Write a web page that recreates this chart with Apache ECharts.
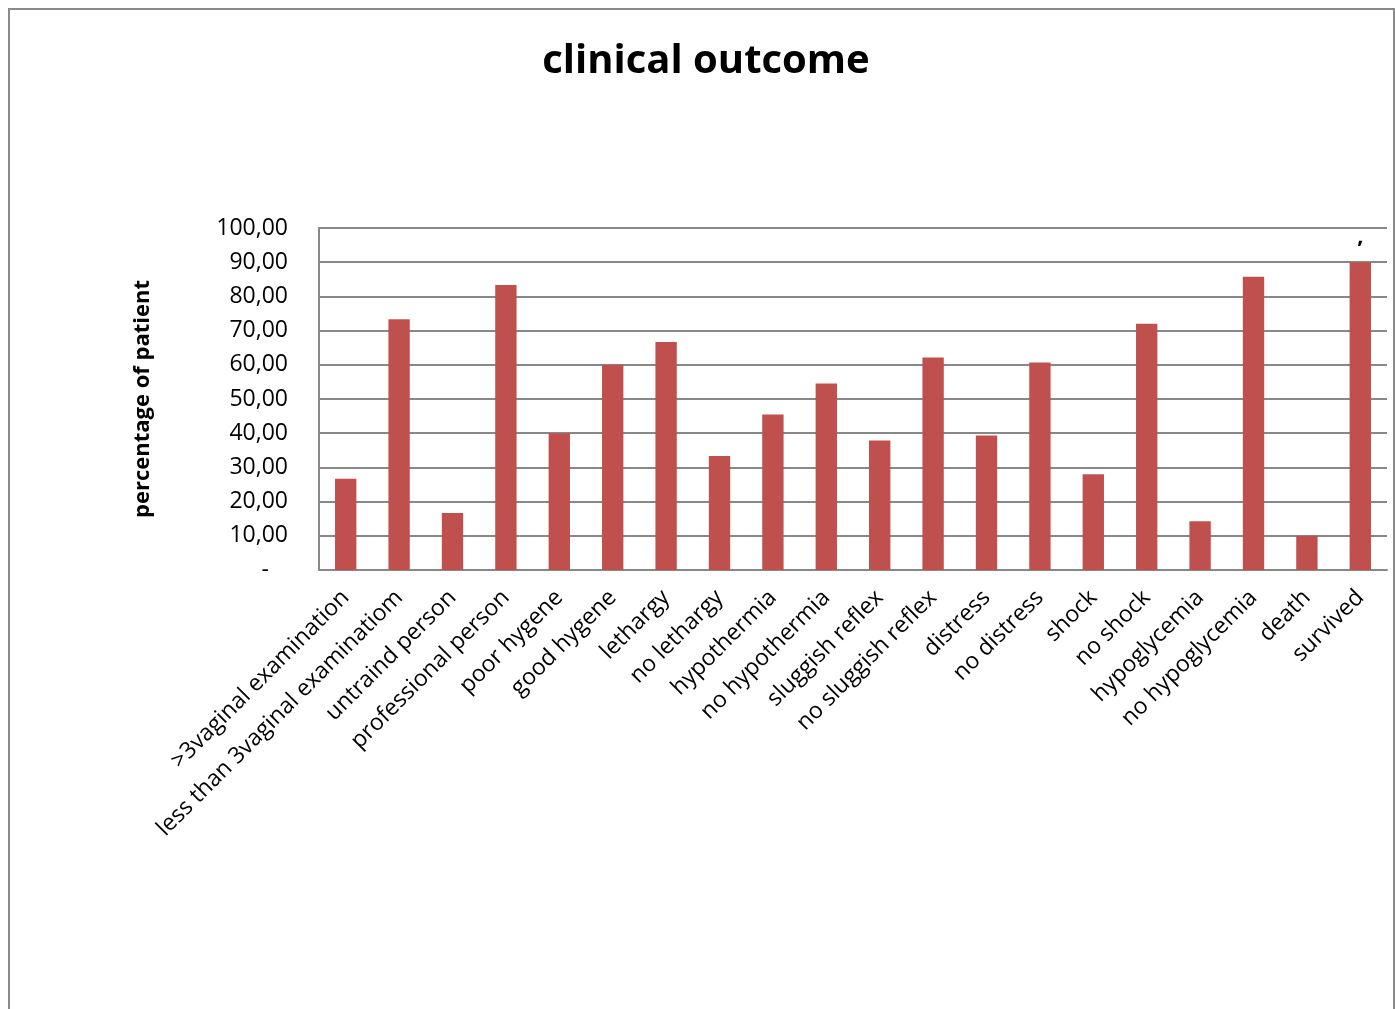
<!DOCTYPE html>
<html>
<head>
<meta charset="utf-8">
<script src="https://cdn.jsdelivr.net/npm/echarts@6/dist/echarts.min.js"></script>
<style>
  html, body { margin: 0; padding: 0; background: #fff; }
  #chart { width: 1395px; height: 1009px; }
</style>
</head>
<body>
<div id="chart"></div>
<script>
// Clinical outcome categories and percentage of patients per category
const categories = [
  '>3vaginal examination', 'less than 3vaginal examinatiom',
  'untraind person', 'professional person',
  'poor hygene', 'good hygene',
  'lethargy', 'no lethargy',
  'hypothermia', 'no hypothermia',
  'sluggish reflex', 'no sluggish reflex',
  'distress', 'no distress',
  'shock', 'no shock',
  'hypoglycemia', 'no hypoglycemia',
  'death', 'survived'
];
const percentages = [
  26.67, 73.33,
  16.67, 83.33,
  40.00, 60.00,
  66.67, 33.33,
  45.45, 54.55,
  37.90, 62.10,
  39.30, 60.70,
  28.00, 72.00,
  14.29, 85.71,
  10.00, 90.00
];
const yTicks = { min: 0, max: 100, interval: 10 };

const FONT = '"Open Sans", "Noto Sans", sans-serif';
const GRID_GREY = '#888888';

const chart = echarts.init(document.getElementById('chart'), null, { renderer: 'canvas' });

const seriesData = percentages.map((v, i) => {
  if (i === percentages.length - 1) {
    return {
      value: v,
      label: {
        show: true, position: 'top', distance: 14,
        formatter: ',', color: '#000', fontSize: 22, fontWeight: 'bold', fontFamily: FONT
      }
    };
  }
  return v;
});

chart.setOption({
  animation: false,
  backgroundColor: '#fff',
  title: {
    text: 'clinical outcome',
    left: 701, top: 37, textAlign: 'center',
    textStyle: { fontFamily: FONT, fontSize: 40, fontWeight: 'bold', color: '#000' }
  },
  graphic: [{
    type: 'rect', silent: true, z: -1,
    shape: { x: 9, y: 9, width: 1385, height: 1020 },
    style: { fill: 'none', stroke: '#8a8a8a', lineWidth: 2 }
  }],
  grid: { left: 319, right: 8, top: 228, bottom: 439 },
  xAxis: {
    type: 'category',
    data: categories,
    axisLine: { lineStyle: { color: GRID_GREY, width: 2 } },
    axisTick: { show: false },
    axisLabel: {
      rotate: 45, interval: 0, margin: 24,
      fontFamily: FONT, fontSize: 23, color: '#000'
    }
  },
  yAxis: {
    type: 'value',
    min: yTicks.min, max: yTicks.max, interval: yTicks.interval,
    name: 'percentage of patient',
    nameLocation: 'middle', nameGap: 165, nameRotate: 90,
    nameTextStyle: { fontFamily: FONT, fontSize: 22, fontWeight: 'bold', color: '#000' },
    axisLine: { show: true, lineStyle: { color: GRID_GREY, width: 2 } },
    axisTick: { show: false },
    splitLine: { lineStyle: { color: GRID_GREY, width: 2 } },
    axisLabel: {
      margin: 31, fontFamily: FONT, fontSize: 23, color: '#000',
      formatter: v => v === 0 ? '-\u2007 ' : v.toFixed(2).replace('.', ',')
    }
  },
  series: [{
    type: 'bar',
    data: seriesData,
    barWidth: '40%',
    itemStyle: { color: '#C0504D' }
  }]
});
</script>
</body>
</html>
